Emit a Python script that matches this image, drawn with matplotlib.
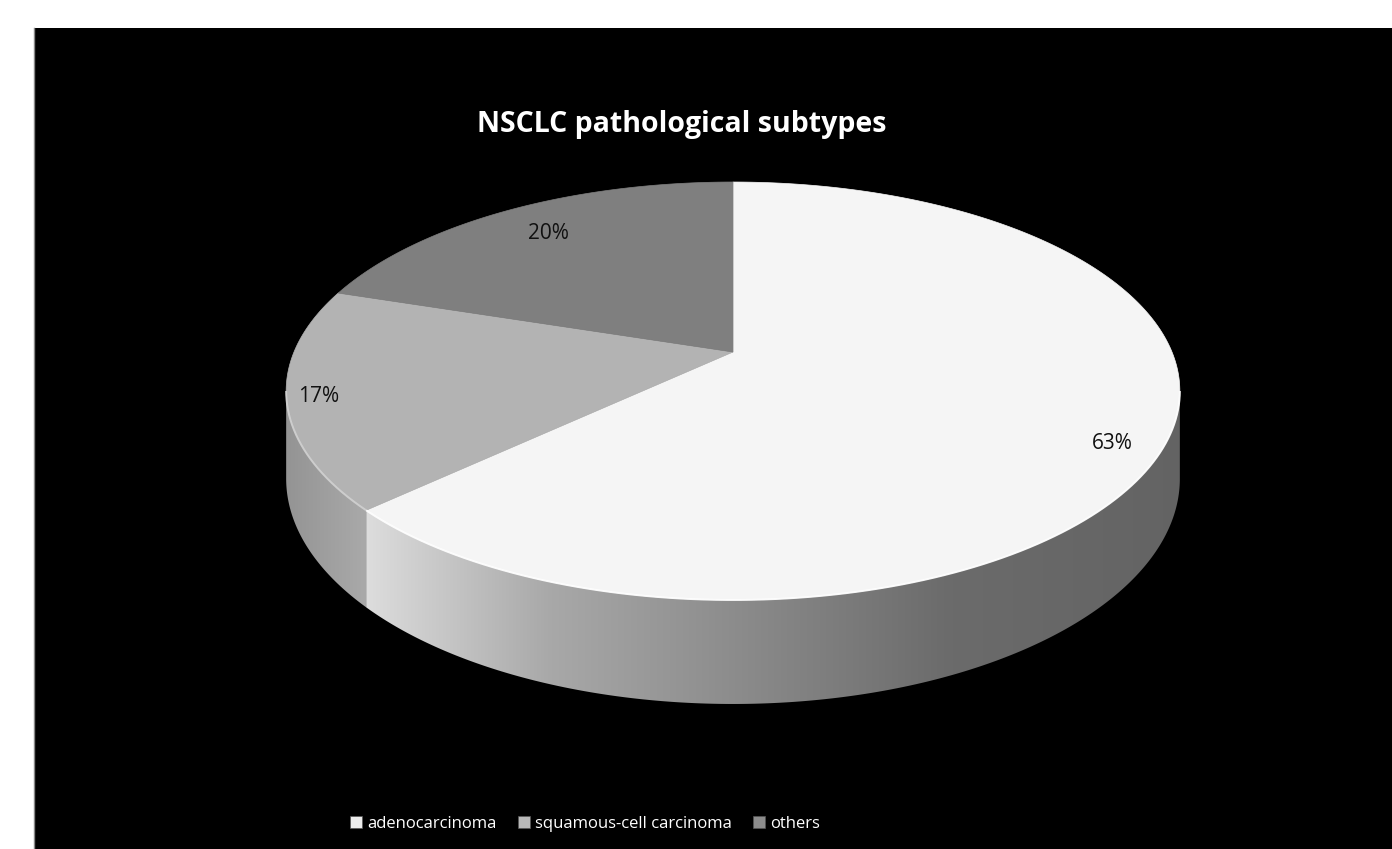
"""NSCLC pathological subtypes - 3D-look pie chart on black background."""

import numpy as np
import matplotlib.pyplot as plt
from matplotlib.patches import Polygon, Rectangle, Patch

# data
labels = ["adenocarcinoma", "squamous-cell carcinoma", "others"]
shares = [63, 17, 20]
title = "NSCLC pathological subtypes"

# style
top_colors = ["#f5f5f5", "#b3b3b3", "#7f7f7f"]
legend_colors = ["#ececec", "#b8b8b8", "#8c8c8c"]
label_radius = [0.88, 0.93, 0.8]
label_dy = [16, 2, -2]
FONT = ["Open Sans", "DejaVu Sans"]

W, H = 1392, 849
cx, cy = 733, 352          # pie vertex (pixels)
A, B, k = 439, 201.7, 0.1866  # perspective ellipse params
D = 84.6                  # side depth


def project(theta, r=1.0, depth=0.0):
    t = np.radians(theta)
    u, v = r * np.sin(t), r * np.cos(t)
    s = 1 + k * v
    return cx + A * u / s, cy - B * v / s + depth / s


def side_shade(x, slice_idx):
    if slice_idx == 0:
        return np.interp(x, [362, 550, 750, 950, 1180], [0.87, 0.66, 0.54, 0.42, 0.39])
    return np.interp(x, [287, 362], [0.58, 0.66])


fig = plt.figure(figsize=(W / 100, H / 100), dpi=100, facecolor="white")
ax = fig.add_axes([0, 0, 1, 1])
ax.set_xlim(0, W)
ax.set_ylim(H, 0)
ax.axis("off")

ax.add_patch(Rectangle((34, 28), W - 34, H - 28, facecolor="black", edgecolor="none", zorder=0))
ax.plot([34, 34], [28, H], color="#888888", lw=1, zorder=1)

bounds = np.concatenate([[0], np.cumsum(shares) / sum(shares) * 360])
vis_lo = np.degrees(np.arccos(-k))
vis_hi = 360 - vis_lo

# side walls: horizontal gradient clipped to the wall outline
for i in range(len(shares)):
    a, b = max(bounds[i], vis_lo), min(bounds[i + 1], vis_hi)
    if a >= b:
        continue
    th = np.linspace(a, b, 400)
    xt, yt = project(th)
    xb, yb = project(th, depth=D)
    outline = np.column_stack([np.r_[xt, xb[::-1]], np.r_[yt, yb[::-1]]])
    wall = Polygon(outline, closed=True, facecolor="none", edgecolor="none")
    ax.add_patch(wall)
    x0, x1 = outline[:, 0].min() - 1, outline[:, 0].max() + 1
    y0, y1 = outline[:, 1].min() - 1, outline[:, 1].max() + 1
    gx = np.linspace(x0, x1, 600)
    g = side_shade(gx, i)
    img = np.tile(np.stack([g, g, g], axis=-1)[None, :, :], (2, 1, 1))
    im = ax.imshow(img, extent=[x0, x1, y1, y0], aspect="auto",
                   interpolation="bilinear", zorder=2)
    im.set_clip_path(wall)

ax.set_xlim(0, W)
ax.set_ylim(H, 0)

# top faces
for i in range(len(shares)):
    th = np.linspace(bounds[i], bounds[i + 1], 300)
    xs, ys = project(th)
    pts = np.column_stack([np.r_[cx, xs], np.r_[cy, ys]])
    ax.add_patch(Polygon(pts, closed=True, facecolor=top_colors[i],
                         edgecolor=top_colors[i], lw=0.5, zorder=3))
    # rim highlight on the front edge
    a, b = max(bounds[i], vis_lo), min(bounds[i + 1], vis_hi)
    if a < b:
        th = np.linspace(a, b, 200)
        xs, ys = project(th)
        ax.plot(xs, ys, color="white" if i == 0 else "#d2d2d2", lw=1.4,
                alpha=0.9, zorder=4, solid_capstyle="butt")

# percentage labels
for i in range(len(shares)):
    mid = (bounds[i] + bounds[i + 1]) / 2
    x, y = project(mid, r=label_radius[i])
    ax.text(x, y + label_dy[i], f"{shares[i]}%", ha="center", va="center",
            fontsize=15, color="#111111", family=FONT, zorder=5)

ax.text(682, 124, title, ha="center", va="center", fontsize=20.5,
        fontweight="bold", color="white", family=FONT, zorder=5)

handles = [Patch(facecolor=c, edgecolor="#555555", lw=0.5) for c in legend_colors]
leg = fig.legend(handles, labels, loc="center", bbox_to_anchor=(585 / W, 1 - 824 / H),
                 ncol=3, frameon=False, handlelength=0.7,
                 handleheight=0.7, handletextpad=0.3, columnspacing=1.3,
                 prop={"family": FONT, "size": 12})
for t in leg.get_texts():
    t.set_color("white")

fig.savefig("out.png", dpi=100, facecolor="white")
